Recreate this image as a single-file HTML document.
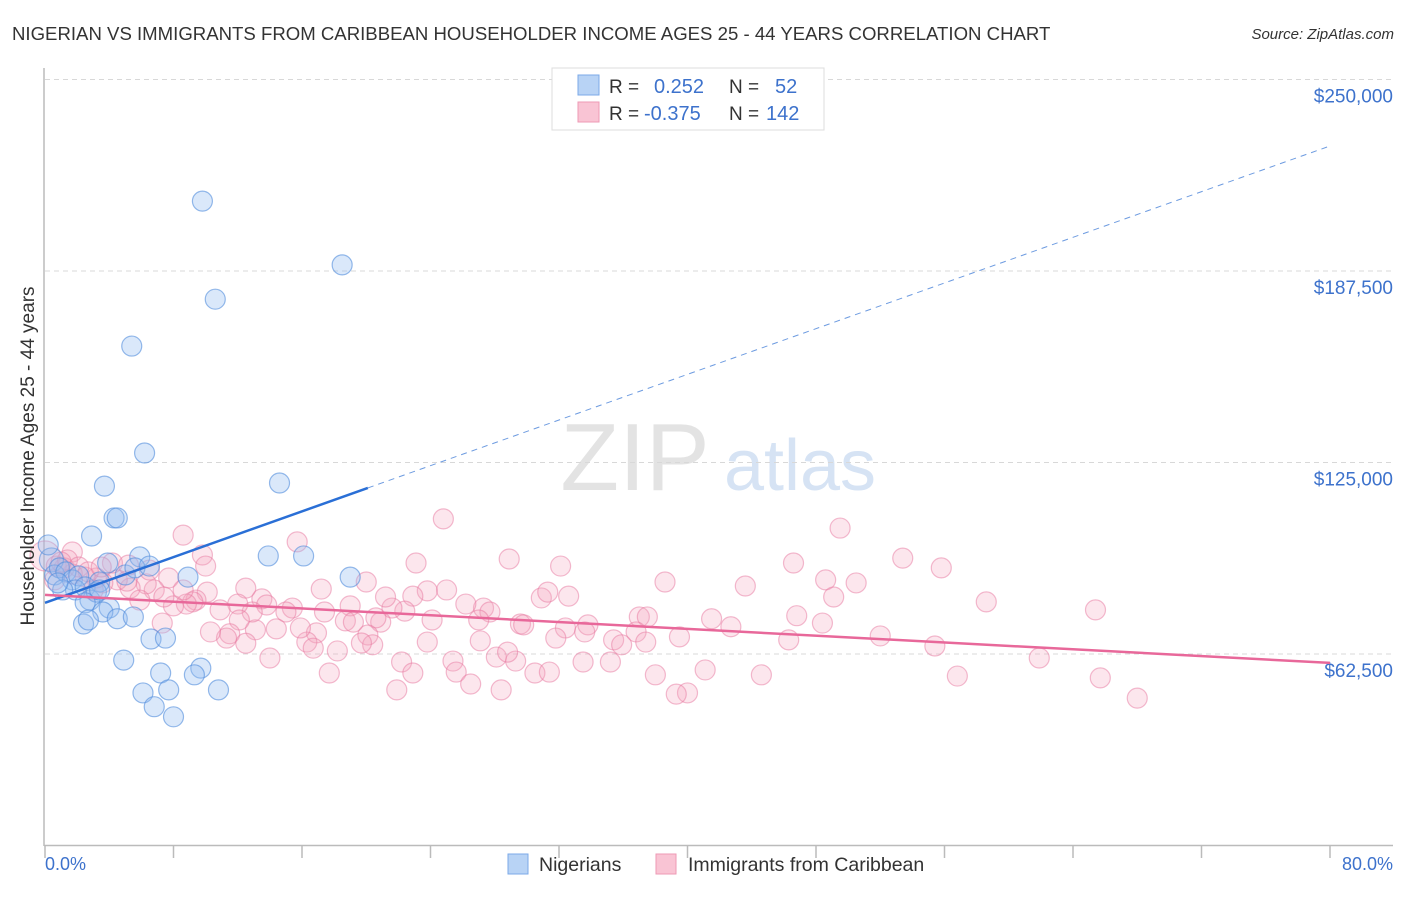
<!DOCTYPE html>
<html><head><meta charset="utf-8"><style>
body{margin:0;background:#fff;font-family:"Liberation Sans",sans-serif}
svg text{font-family:"Liberation Sans",sans-serif}
</style></head><body>
<svg id="chart" width="1406" height="892" viewBox="0 0 1406 892">
<text x="12" y="40" font-size="18.6" fill="#333">NIGERIAN VS IMMIGRANTS FROM CARIBBEAN HOUSEHOLDER INCOME AGES 25 - 44 YEARS CORRELATION CHART</text>
<text x="1394" y="39" font-size="15" fill="#333" font-style="italic" text-anchor="end">Source: ZipAtlas.com</text>
<g><text x="635" y="490" font-size="96" fill="#d8d8d8" font-family="Liberation Serif" text-anchor="middle" opacity="0.7">ZIP</text><text x="800" y="490" font-size="72" fill="#c5d8f0" text-anchor="middle" opacity="0.7">atlas</text></g>
<g id="grid"></g><g id="axes"></g><g id="pinkPts"></g><g id="bluePts"></g><g id="lines"></g>
<text transform="translate(34,456) rotate(-90)" font-size="19" fill="#333" text-anchor="middle">Householder Income Ages 25 - 44 years</text>
<text x="45" y="870" font-size="18" fill="#3d72cc">0.0%</text>
<text x="1393" y="870" font-size="18" fill="#3d72cc" text-anchor="end">80.0%</text>
<g>
<rect x="552" y="68" width="272" height="62" fill="#fff" stroke="#ddd"/>
<rect x="578" y="75" width="21" height="20" fill="#b8d3f5" stroke="#7ba9e8"/>
<rect x="578" y="102" width="21" height="20" fill="#f9c4d4" stroke="#ee9ab5"/>
<text x="609" y="93" font-size="19" fill="#333">R =</text><text x="654" y="93" font-size="20" fill="#3d72cc">0.252</text>
<text x="729" y="93" font-size="19" fill="#333">N =</text><text x="775" y="93" font-size="20" fill="#3d72cc">52</text>
<text x="609" y="120" font-size="19" fill="#333">R =</text><text x="644" y="120" font-size="20" fill="#3d72cc">-0.375</text>
<text x="729" y="120" font-size="19" fill="#333">N =</text><text x="766" y="120" font-size="20" fill="#3d72cc">142</text>
</g>
<g>
<rect x="508" y="854" width="20" height="20" fill="#b8d3f5" stroke="#7ba9e8"/>
<text x="539" y="871" font-size="19.5" fill="#333">Nigerians</text>
<rect x="656" y="854" width="20" height="20" fill="#f9c4d4" stroke="#ee9ab5"/>
<text x="688" y="871" font-size="19.5" fill="#333">Immigrants from Caribbean</text>
</g>
</svg>
<script>
const yTicks=[62500,125000,187500,250000];
const yTickLabels=["$62,500","$125,000","$187,500","$250,000"];
const xTicks=[0,8,16,24,32,40,48,56,64,72,80];
const blueX=[9.8,18.5,10.6,5.4,6.2,3.7,14.6,4.3,4.5,2.9,13.9,16.1,5.9,3.9,19.0,8.9,0.4,0.6,0.9,1.3,1.7,2.1,1.9,2.5,3.4,5.0,5.6,6.5,2.8,3.2,2.5,4.0,3.6,4.5,5.5,2.4,2.7,6.6,7.5,4.9,7.2,9.7,9.3,7.7,6.1,10.8,6.8,8.0,0.2,1.1,0.8,3.4];
const blueY=[210.3,189.5,178.3,163.0,128.1,117.3,118.3,106.9,106.9,101.0,94.5,94.5,94.2,92.2,87.6,87.6,93.2,88.3,90.6,89.3,86.7,88.0,83.4,84.4,86.0,88.3,90.6,91.2,80.1,82.7,79.2,77.5,76.2,74.0,74.6,72.3,73.6,67.4,67.7,60.5,56.3,57.9,55.7,50.8,49.8,50.8,45.3,42.0,98.1,83.4,85.7,83.4];
const pinkX=[0,8.6,15.7,9.8,1.7,24.8,49.5,28.9,32.1,23.1,46.6,53.4,55.8,48.6,50.5,38.6,43.6,49.1,58.6,65.4,46.8,48.4,41.5,42.7,39.5,37.0,37.5,36.8,35.4,35.9,37.4,46.3,52.0,55.4,61.9,65.7,68.0,56.8,44.6,41.1,40.0,39.3,38.0,35.2,32.6,30.9,31.3,33.8,32.4,33.6,29.6,29.8,27.3,27.7,27.0,26.2,25.0,23.8,24.1,22.9,22.4,21.6,21.2,20.9,20.6,20.1,20.4,19.7,19.0,18.7,19.2,17.2,17.4,16.9,16.3,16.7,15.9,15.4,15.0,14.4,13.5,13.8,13.1,12.9,12.5,12.0,12.1,11.5,11.3,10.9,10.3,10.1,9.4,9.2,8.8,8.0,7.3,7.7,6.8,6.3,5.3,4.5,4.2,5.1,3.6,3.2,2.5,1.7,1.2,0.7,1.4,2.1,1.0,14.0,17.7,18.2,21.9,22.2,22.9,25.4,25.6,26.5,28.1,28.4,29.3,30.5,31.4,33.5,23.8,27.1,28.8,31.8,6.5,5.2,2.7,3.5,0.6,7.4,8.6,3.0,5.9,10.0,12.5,20.0];
const pinkY=[94.5,101.3,99.1,94.8,95.8,106.6,103.6,93.5,91.2,92.2,92.2,93.8,90.6,86.7,85.7,86.0,84.7,81.1,79.5,76.9,75.0,72.6,74.0,71.4,68.1,74.6,74.6,69.7,67.1,65.5,66.4,67.1,68.4,65.1,61.2,54.7,48.1,55.3,55.7,57.3,49.8,49.4,55.7,59.9,81.4,80.8,82.7,72.0,71.0,69.7,72.3,72.0,77.5,76.2,73.6,78.8,83.4,83.1,73.6,81.4,76.5,77.5,81.1,72.9,74.3,68.7,65.5,66.1,78.2,73.3,72.9,83.7,76.2,69.4,66.4,64.4,71.0,77.5,76.2,70.7,80.5,78.5,70.4,76.2,84.0,78.8,73.6,69.1,67.7,76.9,69.7,82.7,80.1,79.5,78.8,78.2,72.6,87.3,83.4,85.4,84.0,86.7,92.2,86.3,85.7,87.3,87.6,88.6,90.6,91.2,93.2,90.9,92.5,61.2,56.3,63.5,50.8,59.9,56.3,60.2,56.6,52.7,61.5,50.8,60.2,56.3,56.6,59.9,66.4,66.8,63.1,67.7,89.9,91.5,89.3,90.9,86.7,81.1,83.4,83.4,80.1,91.2,66.0,86.0];
const blueLine=[[0,79.2],[20.1,116.7],[80,228.3]];
const pinkLine=[[0,81.8],[80,59.6]];
const X0=45,X1=1330,Y0=845.5,PX=191.5/62.5;
const sx=v=>X0+(v/80)*(X1-X0);
const sy=v=>Y0-v*PX;
const NS="http://www.w3.org/2000/svg";
function mk(t,a,p){const e=document.createElementNS(NS,t);for(const k in a)e.setAttribute(k,a[k]);p.appendChild(e);return e;}
const grid=document.getElementById('grid');
yTicks.forEach((t,i)=>{
 const y=sy(t/1000);
 const l=mk('line',{x1:45,x2:1393,y1:y,y2:y,stroke:'#d8d8d8','stroke-dasharray':'5,4'},grid);
 
 
 const tx=mk('text',{x:1393,y:y+23,'font-size':19,fill:'#3d72cc','text-anchor':'end'},grid);
 tx.textContent=yTickLabels[i];
 
 
});
const ax=document.getElementById('axes');
const ya=mk('line',{x1:44,x2:44,y1:68,y2:846,stroke:'#bbb','stroke-width':1.5},ax);


const xa=mk('line',{x1:44,x2:1393,y1:845.5,y2:845.5,stroke:'#bbb','stroke-width':1.5},ax);


xTicks.forEach(t=>{const l=mk('line',{x1:sx(t),x2:sx(t),y1:845,y2:858,stroke:'#bbb','stroke-width':1.5},ax);
 
 });
const pg=document.getElementById('pinkPts');
pinkX.forEach((x,i)=>{const c=mk('circle',{cx:sx(x),cy:sy(pinkY[i]),r:i==0?15:10,fill:'rgba(245,165,192,0.28)',stroke:'rgba(232,120,160,0.5)','stroke-width':1.2},pg);
 
 });
const bg=document.getElementById('bluePts');
blueX.forEach((x,i)=>{const c=mk('circle',{cx:sx(x),cy:sy(blueY[i]),r:i==16?12:10,fill:'rgba(150,190,240,0.35)',stroke:'rgba(80,140,220,0.6)','stroke-width':1.2},bg);
 
 });
const lg=document.getElementById('lines');
const b1=mk('line',{x1:sx(blueLine[0][0]),y1:sy(blueLine[0][1]),x2:sx(blueLine[1][0]),y2:sy(blueLine[1][1]),stroke:'#2a6fd6','stroke-width':2.5},lg);


const b2=mk('line',{x1:sx(blueLine[1][0]),y1:sy(blueLine[1][1]),x2:sx(blueLine[2][0]),y2:sy(blueLine[2][1]),stroke:'#6d9be0','stroke-width':1,'stroke-dasharray':'6,5'},lg);


const p1=mk('line',{x1:sx(pinkLine[0][0]),y1:sy(pinkLine[0][1]),x2:sx(pinkLine[1][0]),y2:sy(pinkLine[1][1]),stroke:'#e8689a','stroke-width':2.5},lg);


</script>
</body></html>
